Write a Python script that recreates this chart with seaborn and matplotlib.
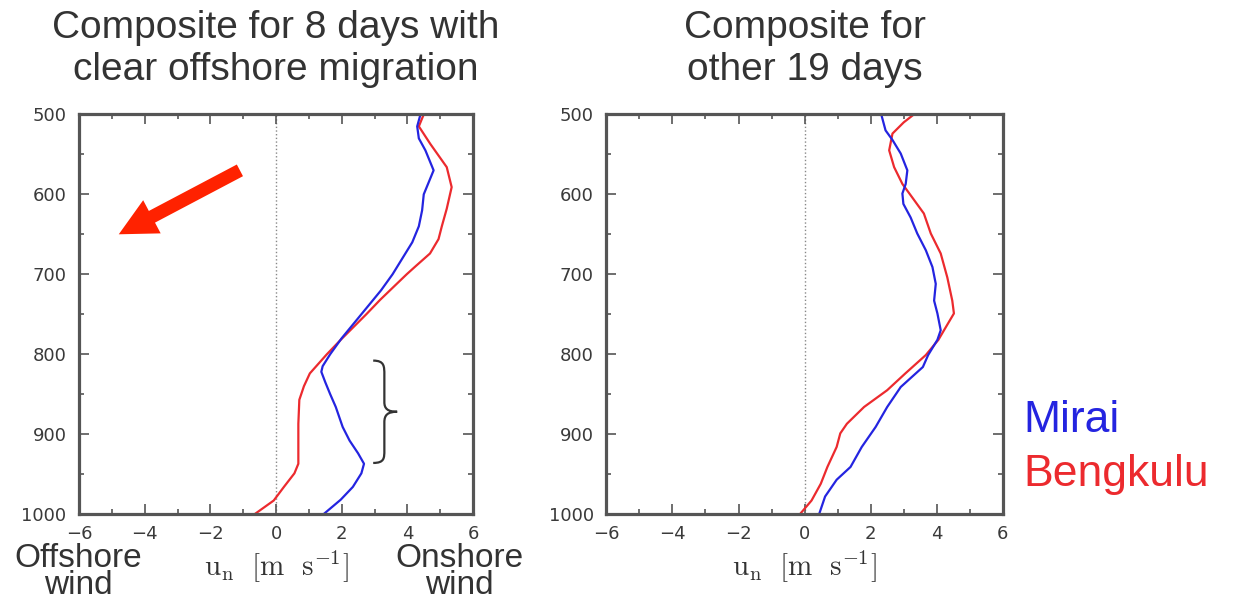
import matplotlib
matplotlib.use("Agg")
import matplotlib.pyplot as plt
from matplotlib.path import Path
from matplotlib.patches import PathPatch
from matplotlib.ticker import MultipleLocator
import pandas as pd
import seaborn as sns

sns.set_theme(style="white")
plt.rcParams["font.family"] = ["DejaVu Sans"]
plt.rcParams["mathtext.fontset"] = "cm"

# composite u_n profiles (m/s) against pressure (hPa)
# panel 1: 8 days with clear offshore migration
p_left_mirai = [500, 515, 530, 545, 570, 585, 600, 620, 640, 660, 680, 700,
                720, 740, 760, 780, 800, 815, 822, 835, 850, 866, 891, 908,
                924, 937, 949, 966, 982, 1000]
u_left_mirai = [4.40, 4.30, 4.35, 4.55, 4.80, 4.65, 4.50, 4.45, 4.35, 4.15,
                3.85, 3.55, 3.20, 2.80, 2.40, 2.00, 1.65, 1.42, 1.38, 1.50,
                1.65, 1.82, 2.03, 2.24, 2.50, 2.68, 2.60, 2.34, 1.97, 1.45]
p_left_beng = [500, 515, 537, 566, 591, 618, 640, 656, 674, 690, 700, 715,
               732, 750, 766, 782, 800, 824, 840, 857, 887, 908, 937, 949,
               966, 983, 1000]
u_left_beng = [4.50, 4.35, 4.70, 5.20, 5.35, 5.20, 5.05, 4.95, 4.69, 4.25,
               3.98, 3.60, 3.17, 2.75, 2.36, 1.97, 1.55, 1.03, 0.85, 0.71,
               0.68, 0.68, 0.68, 0.56, 0.24, -0.07, -0.65]

# panel 2: other 19 days
p_right_mirai = [500, 520, 532, 549, 570, 587, 599, 612, 629, 649, 670, 691,
                 712, 733, 749, 770, 782, 801, 816, 841, 866, 891, 916, 941,
                 957, 978, 1000]
u_right_mirai = [2.32, 2.45, 2.66, 2.91, 3.11, 3.06, 2.96, 2.99, 3.21, 3.41,
                 3.67, 3.87, 3.97, 3.92, 4.02, 4.12, 4.02, 3.74, 3.58, 2.91,
                 2.50, 2.15, 1.73, 1.39, 0.97, 0.62, 0.44]
p_right_beng = [500, 510, 524, 545, 566, 587, 604, 624, 649, 674, 704, 733,
                749, 770, 782, 801, 824, 845, 866, 887, 899, 916, 941, 962,
                983, 1000]
u_right_beng = [3.31, 3.00, 2.66, 2.56, 2.71, 2.96, 3.26, 3.61, 3.82, 4.12,
                4.32, 4.47, 4.52, 4.22, 4.05, 3.67, 3.05, 2.50, 1.80, 1.28,
                1.08, 0.97, 0.69, 0.49, 0.21, -0.14]

sites = ["Bengkulu", "Mirai"]
site_colors = {"Mirai": "#2424e0", "Bengkulu": "#ec2a2e"}
titles = ["Composite for 8 days with\nclear offshore migration",
          "Composite for\nother 19 days"]


def _profile_frame(p_m, u_m, p_b, u_b):
    mirai = pd.DataFrame({"p": p_m, "u": u_m, "site": "Mirai"})
    beng = pd.DataFrame({"p": p_b, "u": u_b, "site": "Bengkulu"})
    return pd.concat([beng, mirai], ignore_index=True)


def _style_axes(ax):
    ax.set_xlim(-6, 6)
    ax.set_ylim(1000, 500)
    ax.xaxis.set_major_locator(MultipleLocator(2))
    ax.xaxis.set_minor_locator(MultipleLocator(1))
    ax.yaxis.set_major_locator(MultipleLocator(100))
    ax.yaxis.set_minor_locator(MultipleLocator(50))
    ax.tick_params(which="both", direction="in", top=True, right=True,
                   bottom=True, left=True, color="#555555", width=1.2)
    ax.tick_params(which="major", length=7, labelsize=13,
                   labelcolor="#3a3a3a")
    ax.tick_params(which="minor", length=3.5)
    ax.tick_params(axis="x", pad=8)
    ax.tick_params(axis="y", pad=9)
    for sp in ax.spines.values():
        sp.set_color("#555555")
        sp.set_linewidth(2.3)
    ax.axvline(0, color="#888888", lw=1.0, ls=":", zorder=0)
    ax.set_ylabel("")
    ax.set_xlabel(r"$\mathrm{u_n\ \ [m\ \ s^{-1}]}$", fontsize=21,
                  color="#333333", labelpad=4)


fig = plt.figure(figsize=(12.35, 6.02), dpi=100)
ax1 = fig.add_axes([0.064, 0.146, 0.319, 0.664])
ax2 = fig.add_axes([0.491, 0.146, 0.321, 0.664])

frames = [_profile_frame(p_left_mirai, u_left_mirai, p_left_beng, u_left_beng),
          _profile_frame(p_right_mirai, u_right_mirai, p_right_beng, u_right_beng)]

for ax, df, title in zip([ax1, ax2], frames, titles):
    sns.lineplot(data=df, x="u", y="p", hue="site", hue_order=sites,
                 palette=site_colors, orient="y", estimator=None,
                 linewidth=1.6, legend=False, ax=ax)
    _style_axes(ax)
    cx = (ax.get_position().x0 + ax.get_position().x1) / 2
    fig.text(cx, 0.918, title, ha="center", va="center", fontsize=28,
             color="#333333", family="Liberation Sans", linespacing=1.22)

# red arrow pointing offshore
ax1.annotate("", xy=(-4.79, 650), xytext=(-1.10, 570),
             arrowprops=dict(facecolor="#ff2200", edgecolor="none",
                             width=9.5, headwidth=27, headlength=27, shrink=0))

# curly brace next to the low-level Mirai bulge
bx, tx, ex = 3.3, 3.69, 2.96
brace = Path(
    [(ex, 808), (bx, 808), (bx, 815), (bx, 826),
     (bx, 860),
     (bx, 868), (3.4, 872), (tx, 872),
     (3.4, 872), (bx, 876), (bx, 885),
     (bx, 920),
     (bx, 930), (bx, 936), (ex, 936)],
    [Path.MOVETO, Path.CURVE4, Path.CURVE4, Path.CURVE4,
     Path.LINETO,
     Path.CURVE4, Path.CURVE4, Path.CURVE4,
     Path.CURVE4, Path.CURVE4, Path.CURVE4,
     Path.LINETO,
     Path.CURVE4, Path.CURVE4, Path.CURVE4])
ax1.add_patch(PathPatch(brace, facecolor="none", edgecolor="#333333", lw=1.6))

# wind direction captions under the left panel
fig.text(78 / 1235, 1 - 572 / 602, "Offshore\nwind", ha="center", va="center",
         fontsize=24, color="#333333", family="Liberation Sans", linespacing=0.85)
fig.text(459 / 1235, 1 - 572 / 602, "Onshore\nwind", ha="center", va="center",
         fontsize=24, color="#333333", family="Liberation Sans", linespacing=0.85)

# site labels to the right
fig.text(1023 / 1235, 1 - 432 / 602, "Mirai", ha="left", va="baseline",
         fontsize=32, color=site_colors["Mirai"], family="Liberation Sans")
fig.text(1023 / 1235, 1 - 486 / 602, "Bengkulu", ha="left", va="baseline",
         fontsize=32, color=site_colors["Bengkulu"], family="Liberation Sans")

fig.savefig("out.png", dpi=100, facecolor="white")
